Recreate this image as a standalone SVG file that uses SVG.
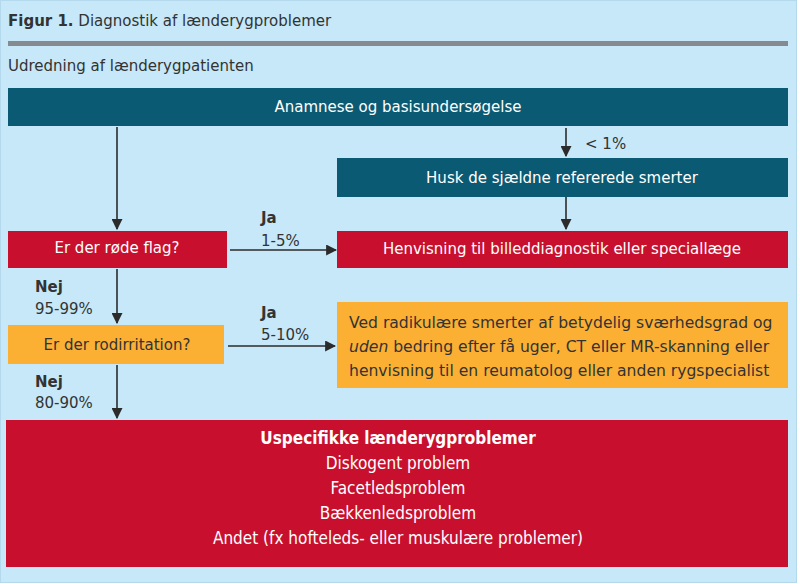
<svg xmlns="http://www.w3.org/2000/svg" width="800" height="584" viewBox="0 0 800 584">
<defs>
<style>
text{font-family:"DejaVu Sans",Verdana,sans-serif;font-size:15px;fill:#333}
.w{fill:#fff}
.b{font-weight:bold}
.c{text-anchor:middle}
.y{font-size:15.6px}
.teal{fill:#0b5a73}
.red{fill:#c8102e}
.yel{fill:#fbb034}
.ln{stroke:#2b2b2b;stroke-width:1.6;fill:none}
.bt{font-family:"DejaVu Sans Condensed","DejaVu Sans",sans-serif;font-size:17px;fill:#fff;text-anchor:middle}
</style>
<marker id="ah" viewBox="0 0 10 10" refX="9" refY="5" markerWidth="11" markerHeight="11" markerUnits="userSpaceOnUse" orient="auto">
<path d="M0,0 L10,5 L0,10 z" fill="#2b2b2b"/>
</marker>
</defs>
<rect x="0" y="0" width="800" height="584" fill="#fff"/>
<rect x="0.5" y="0.5" width="796" height="582" fill="#c6e8f8" stroke="#b5d9ec"/>
<g id="header">
<text x="8" y="26"><tspan class="b">Figur 1.</tspan> Diagnostik af lænderygproblemer</text>
<rect x="8" y="41" width="780" height="5" fill="#848a90"/>
<text x="8" y="71">Udredning af lænderygpatienten</text>
</g>
<g id="n-anamnese"><rect class="teal" x="8" y="88" width="780" height="38"/><text class="w c" x="398" y="112">Anamnese og basisundersøgelse</text></g>
<g id="n-husk"><rect class="teal" x="337" y="158" width="451" height="39"/><text class="w c" x="562" y="183">Husk de sjældne refererede smerter</text></g>
<g id="n-henvisning"><rect class="red" x="337" y="231" width="451" height="37"/><text class="w c" x="562" y="254">Henvisning til billeddiagnostik eller speciallæge</text></g>
<g id="n-roede"><rect class="red" x="8" y="231" width="219" height="37"/><text class="w c" x="117" y="253">Er der røde flag?</text></g>
<g id="n-rod"><rect class="yel" x="8" y="325" width="216" height="39"/><text class="c" x="117" y="350">Er der rodirritation?</text></g>
<g id="n-radik"><rect class="yel" x="337" y="302" width="451" height="86"/>
<text class="y" x="349" y="328">Ved radikulære smerter af betydelig sværhedsgrad og</text>
<text class="y" x="349" y="352"><tspan font-style="italic">uden</tspan> bedring efter få uger, CT eller MR-skanning eller</text>
<text class="y" x="349" y="376">henvisning til en reumatolog eller anden rygspecialist</text>
</g>
<g id="n-uspec"><rect class="red" x="6" y="420" width="782" height="147"/>
<text class="bt b" x="398" y="444">Uspecifikke lænderygproblemer</text>
<text class="bt" x="398" y="469">Diskogent problem</text>
<text class="bt" x="398" y="494">Facetledsproblem</text>
<text class="bt" x="398" y="519">Bækkenledsproblem</text>
<text class="bt" x="398" y="544">Andet (fx hofteleds- eller muskulære problemer)</text>
</g>
<g id="connectors">
<path class="ln" marker-end="url(#ah)" d="M117,127 V229"/>
<path class="ln" marker-end="url(#ah)" d="M566,128 V156"/>
<path class="ln" marker-end="url(#ah)" d="M566,197 V229"/>
<path class="ln" marker-end="url(#ah)" d="M230,250 H336"/>
<path class="ln" marker-end="url(#ah)" d="M117,269 V323"/>
<path class="ln" marker-end="url(#ah)" d="M228,346 H335"/>
<path class="ln" marker-end="url(#ah)" d="M117,365 V418"/>
</g>
<g id="labels">
<text x="585" y="149">&lt; 1%</text>
<text class="b" x="261" y="223">Ja</text>
<text x="261" y="246">1-5%</text>
<text class="b" x="261" y="318">Ja</text>
<text x="261" y="340">5-10%</text>
<text class="b" x="35" y="292">Nej</text>
<text x="35" y="314">95-99%</text>
<text class="b" x="35" y="387">Nej</text>
<text x="35" y="408">80-90%</text>
</g>
</svg>
